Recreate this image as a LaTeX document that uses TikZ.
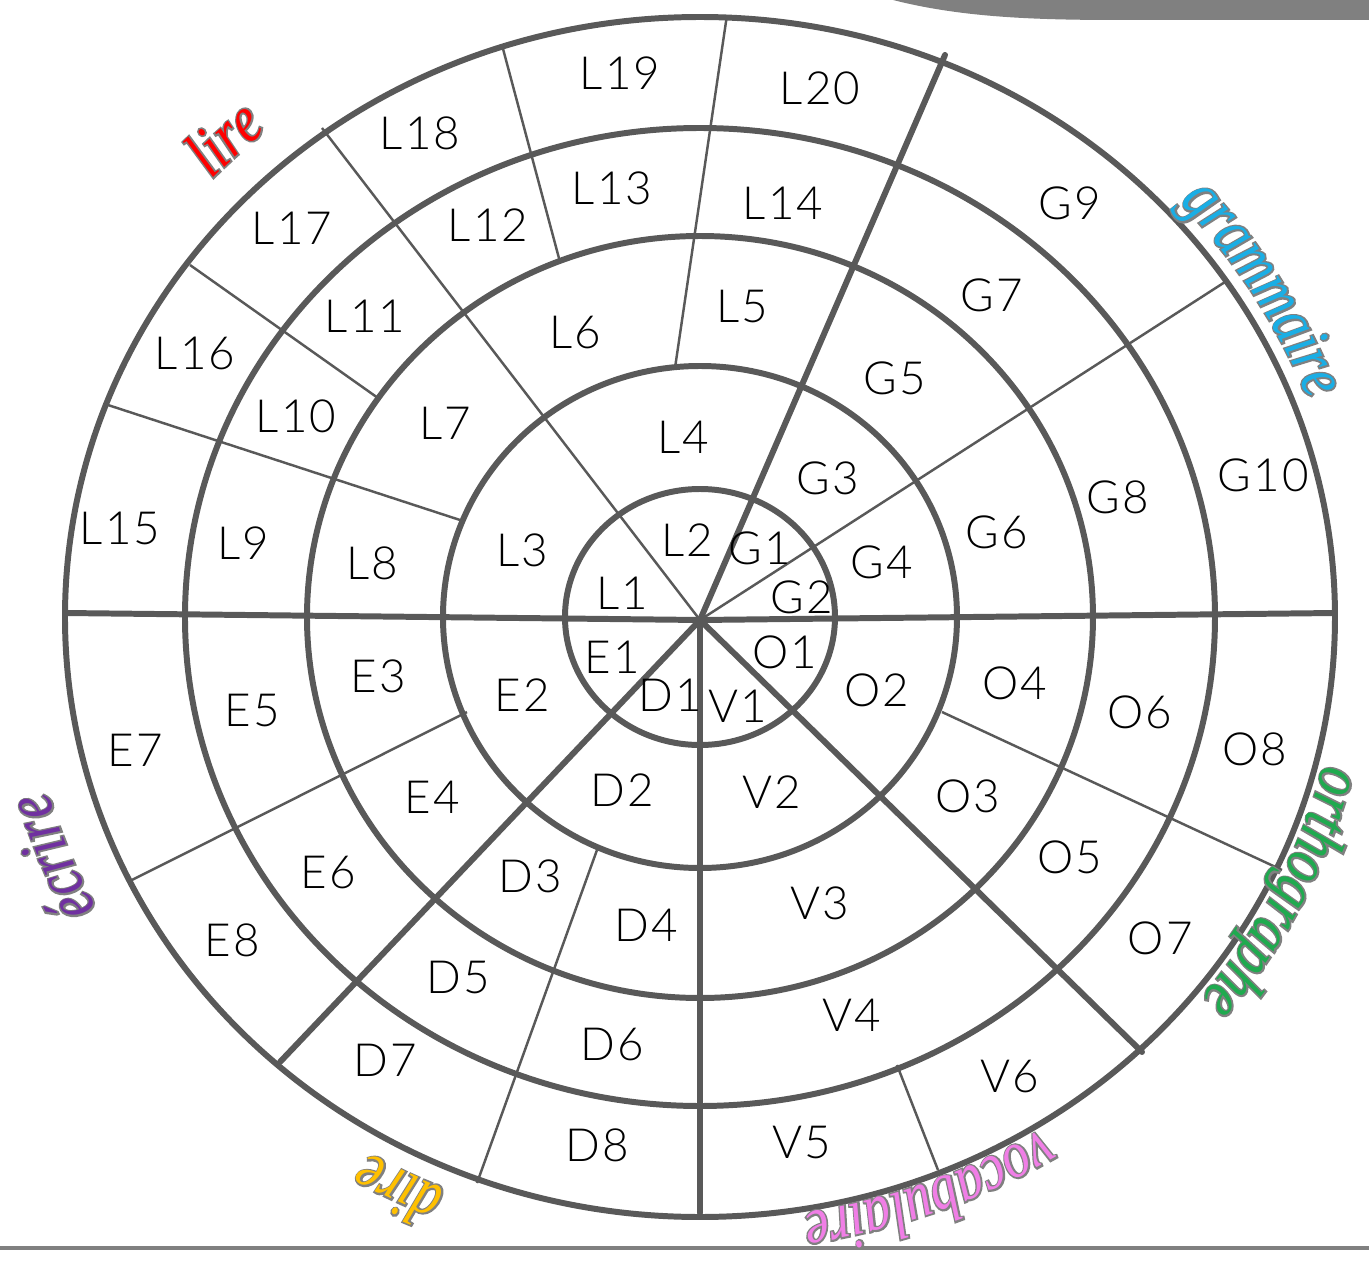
\documentclass[tikz,border=0pt]{standalone}
\usepackage{fontspec}
\IfFontExistsTF{Lato Light}{\setmainfont{Lato Light}[LetterSpace=5]}{\setmainfont{Lato}[LetterSpace=5]}
\newfontfamily\wordfill{Liberation Serif Italic}[FakeStretch=0.8]
\newfontfamily\wordhalo{Liberation Serif Italic}[FakeStretch=0.8, FakeBold=5]
\usepackage{tikz}
\usetikzlibrary{decorations.text}
\usepackage{xcolor}
\definecolor{linegrey}{HTML}{595959}
\definecolor{halogrey}{HTML}{808080}
\definecolor{lirered}{HTML}{FF0000}
\definecolor{grammblue}{HTML}{1AAEE5}
\definecolor{orthogreen}{HTML}{1FAA4F}
\definecolor{vocapink}{HTML}{F07EE6}
\definecolor{direyellow}{HTML}{FFC000}
\definecolor{ecrirepurple}{HTML}{7030A0}

% one category word, halo first then fill, along an ellipse round the wheel
\newcommand\catword[6]{%
  \path[word={|\wordhalo\fontsize{19}{22}\selectfont\color{halogrey}|#6}]
    (#1:#3 and #4) arc[start angle=#1, end angle=#2, x radius=#3, y radius=#4];
  \path[word={|\wordfill\fontsize{19}{22}\selectfont\color{#5}|#6}]
    (#1:#3 and #4) arc[start angle=#1, end angle=#2, x radius=#3, y radius=#4];}

\begin{document}
\begin{tikzpicture}[x=0.01cm, y=0.01cm,
    ring/.style={draw=linegrey, line width=1.7pt},
    spoke/.style={draw=linegrey, line width=1.7pt, line cap=round},
    split/.style={draw=linegrey, line width=0.7pt},
    cell/.style={font=\fontsize{13}{15}\selectfont, inner sep=0pt},
    word/.style={decorate, decoration={text along path, text align=center, text={#1}}}
]
    \useasboundingbox (-700,-646) rectangle (669,617);
    \coordinate (c) at (0,-3);

    % banner and bottom rule
    \fill[halogrey] (193,617) .. controls (260,600) and (330,597) .. (420,597) -- (669,597) -- (669,617) -- cycle;
    \draw[halogrey, line width=1.4pt] (-700,-631) -- (669,-631);

    % thin dividers
    \draw[split] (c) -- (-378,489);
    \draw[split] (c) -- (525,335);
    \draw[split] (-240,97) -- (-592,212);
    \draw[split] (-322,219) -- (-510,352);
    \draw[split] (-140,355) -- (-198,572);
    \draw[split] (-25,249) -- (27,602);
    \draw[split] (242,-95) -- (582,-253);
    \draw[split] (-233,-95) -- (-570,-264);
    \draw[split] (-103,-233) -- (-223,-566);
    \draw[split] (197,-448) -- (238,-553);

    % category spokes
    \draw[spoke] (c) -- (-635,4);
    \draw[spoke] (c) -- (635,4);
    \draw[spoke] (c) -- (245,562);
    \draw[spoke] (c) -- (-420,-445);
    \draw[spoke] (c) -- (0,-596);
    \draw[spoke] (c) -- (442,-435);

    % rings
    \draw[ring] (0,0) ellipse [x radius=135, y radius=128];
    \draw[ring] (0,0) ellipse [x radius=257, y radius=251];
    \draw[ring] (0,0) ellipse [x radius=393, y radius=381];
    \draw[ring] (0,0) ellipse [x radius=515, y radius=489];
    \draw[ring] (0,0) ellipse [x radius=635, y radius=600];

    % ring 1
    \node[cell] (l1) at (-78,24) {L1};
    \node[cell] (l2) at (-13,77) {L2};
    \node[cell] (g1) at (60,69) {G1};
    \node[cell] (g2) at (102,20) {G2};
    \node[cell] (o1) at (85,-35) {O1};
    \node[cell] (v1) at (38,-89) {V1};
    \node[cell] (d1) at (-30,-78) {D1};
    \node[cell] (e1) at (-88,-40) {E1};
    % ring 2
    \node[cell] (l3) at (-178,67) {L3};
    \node[cell] (l4) at (-17,180) {L4};
    \node[cell] (g3) at (128,139) {G3};
    \node[cell] (g4) at (182,55) {G4};
    \node[cell] (o2) at (177,-73) {O2};
    \node[cell] (v2) at (72,-175) {V2};
    \node[cell] (d2) at (-78,-173) {D2};
    \node[cell] (e2) at (-178,-78) {E2};
    % ring 3
    \node[cell] (l8) at (-328,54) {L8};
    \node[cell] (l7) at (-255,194) {L7};
    \node[cell] (l6) at (-125,284) {L6};
    \node[cell] (l5) at (42,310) {L5};
    \node[cell] (g5) at (195,239) {G5};
    \node[cell] (g6) at (297,85) {G6};
    \node[cell] (o4) at (315,-66) {O4};
    \node[cell] (o3) at (268,-179) {O3};
    \node[cell] (v3) at (120,-286) {V3};
    \node[cell] (d4) at (-54,-308) {D4};
    \node[cell] (d3) at (-170,-259) {D3};
    \node[cell] (e4) at (-268,-180) {E4};
    \node[cell] (e3) at (-322,-59) {E3};
    % ring 4
    \node[cell] (l9) at (-457,74) {L9};
    \node[cell] (l10) at (-404,201) {L10};
    \node[cell] (l11) at (-335,301) {L11};
    \node[cell] (l12) at (-212,392) {L12};
    \node[cell] (l13) at (-88,429) {L13};
    \node[cell] (l14) at (83,414) {L14};
    \node[cell] (g7) at (292,322) {G7};
    \node[cell] (g8) at (418,120) {G8};
    \node[cell] (o6) at (440,-95) {O6};
    \node[cell] (o5) at (370,-240) {O5};
    \node[cell] (v4) at (152,-398) {V4};
    \node[cell] (d6) at (-88,-428) {D6};
    \node[cell] (d5) at (-242,-361) {D5};
    \node[cell] (e6) at (-372,-256) {E6};
    \node[cell] (e5) at (-448,-94) {E5};
    % ring 5
    \node[cell] (l15) at (-580,89) {L15};
    \node[cell] (l16) at (-505,264) {L16};
    \node[cell] (l17) at (-408,389) {L17};
    \node[cell] (l18) at (-280,484) {L18};
    \node[cell] (l19) at (-80,544) {L19};
    \node[cell] (l20) at (120,529) {L20};
    \node[cell] (g9) at (370,414) {G9};
    \node[cell] (g10) at (563,142) {G10};
    \node[cell] (o8) at (555,-132) {O8};
    \node[cell] (o7) at (460,-321) {O7};
    \node[cell] (v6) at (310,-460) {V6};
    \node[cell] (v5) at (102,-526) {V5};
    \node[cell] (d8) at (-103,-528) {D8};
    \node[cell] (d7) at (-315,-443) {D7};
    \node[cell] (e8) at (-468,-323) {E8};
    \node[cell] (e7) at (-565,-133) {E7};

    % category words
    \catword{174}{94}{672}{637}{lirered}{lire}
    \catword{71}{-9}{650}{615}{grammblue}{grammaire}
    \catword{14}{-66}{643}{608}{orthogreen}{orthographe}
    \catword{-29}{-109}{648}{604}{vocapink}{vocabulaire}
    \catword{-77}{-157}{660}{620}{direyellow}{dire}
    \catword{241}{161}{678}{640}{ecrirepurple}{écrire}
\end{tikzpicture}
\end{document}
